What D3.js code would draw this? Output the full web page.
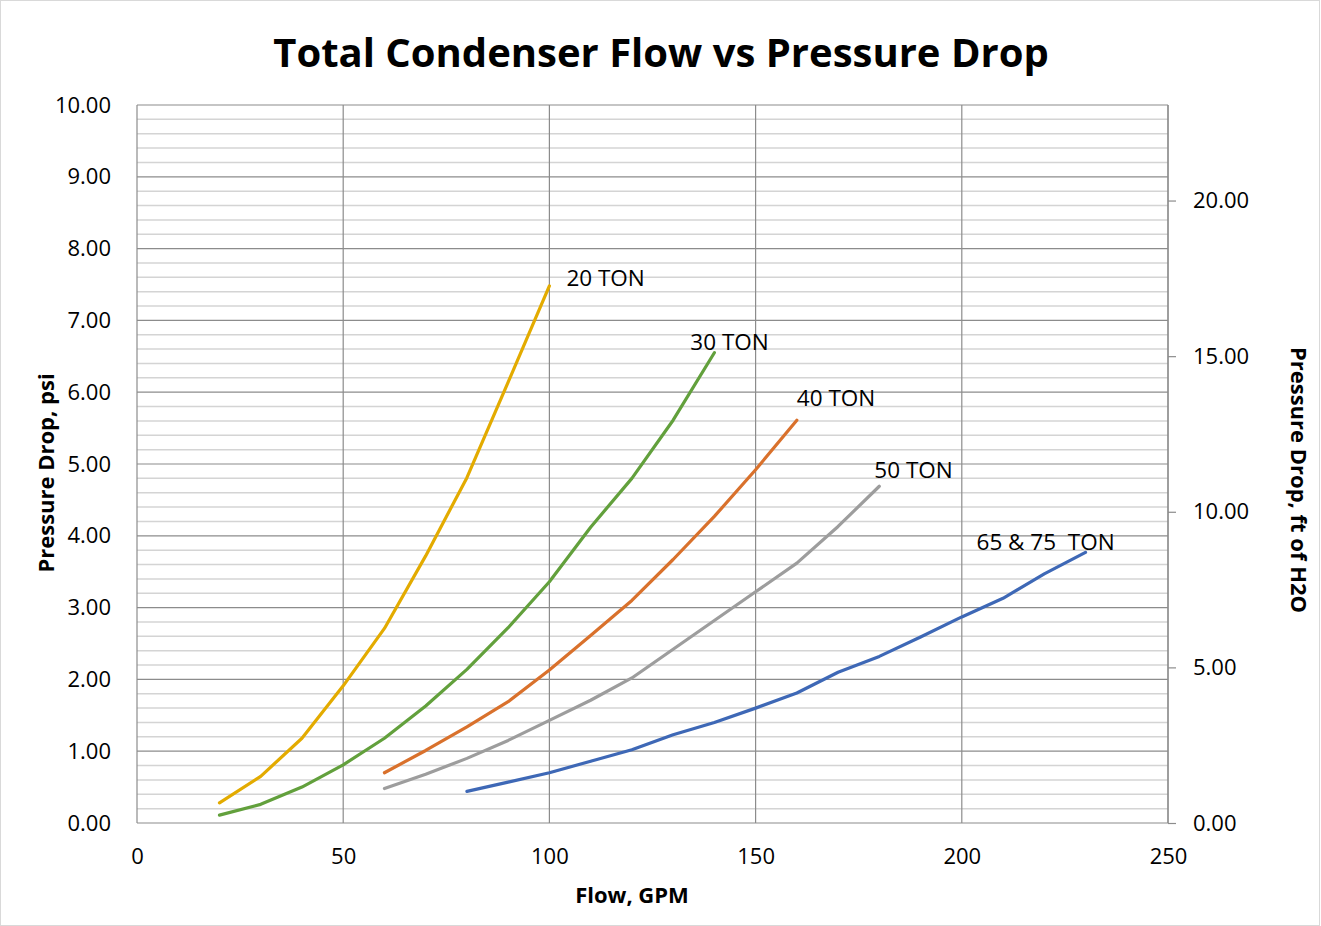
<!DOCTYPE html>
<html><head><meta charset="utf-8">
<script src="https://cdn.jsdelivr.net/npm/d3@7"></script>
<style>
html,body{margin:0;padding:0;background:#fff;}
svg{display:block;font-family:"Open Sans",sans-serif;}
</style></head>
<body>
<svg id="chart" width="1321" height="926"></svg>
<script>
const title = "Total Condenser Flow vs Pressure Drop";
const xTicks = [0, 50, 100, 150, 200, 250];
const yTicks = [0, 1, 2, 3, 4, 5, 6, 7, 8, 9, 10];
const y2Ticks = [0, 5, 10, 15, 20];
const PSI_TO_FT = 2.307;

const flow20 = [20, 30, 40, 50, 60, 70, 80, 90, 100];
const psi20  = [0.28, 0.65, 1.18, 1.91, 2.71, 3.72, 4.81, 6.14, 7.48];
const flow30 = [20, 30, 40, 50, 60, 70, 80, 90, 100, 110, 120, 130, 140];
const psi30  = [0.11, 0.26, 0.50, 0.81, 1.18, 1.63, 2.14, 2.72, 3.36, 4.12, 4.80, 5.61, 6.55];
const flow40 = [60, 70, 80, 90, 100, 110, 120, 130, 140, 150, 160];
const psi40  = [0.70, 1.01, 1.34, 1.69, 2.13, 2.61, 3.10, 3.67, 4.27, 4.92, 5.61];
const flow50 = [60, 70, 80, 90, 100, 110, 120, 130, 140, 150, 160, 170, 180];
const psi50  = [0.48, 0.68, 0.90, 1.15, 1.43, 1.71, 2.02, 2.42, 2.82, 3.22, 3.62, 4.13, 4.69];
const flow65 = [80, 90, 100, 110, 120, 130, 140, 150, 160, 170, 180, 190, 200, 210, 220, 230];
const psi65  = [0.44, 0.57, 0.70, 0.86, 1.02, 1.23, 1.40, 1.60, 1.81, 2.10, 2.32, 2.59, 2.87, 3.13, 3.47, 3.77];

const seriesNames  = ["20 TON", "30 TON", "40 TON", "50 TON", "65 & 75  TON"];
const seriesColors = ["#E3AB00", "#62A03C", "#D9712C", "#9D9D9D", "#3E68B6"];
const seriesFlows  = [flow20, flow30, flow40, flow50, flow65];
const seriesPsi    = [psi20, psi30, psi40, psi50, psi65];

const svg = d3.select("#chart");
const L = 137, R = 1168, T = 105, B = 823;
const x = d3.scaleLinear().domain([0, 250]).range([L, R]);
const y = d3.scaleLinear().domain([0, 10]).range([B, T]);
const y2 = d3.scaleLinear().domain([0, 10 * PSI_TO_FT]).range([B, T]);

// outer border
svg.append("rect").attr("x", 0.5).attr("y", 0.5).attr("width", 1319).attr("height", 925)
  .attr("fill", "#fff").attr("stroke", "#d9d9d9");

// minor gridlines
const minor = d3.range(0, 50).map(i => i * 0.2).filter(v => Math.abs(v - Math.round(v)) > 1e-6);
svg.append("g").selectAll("line").data(minor).join("line")
  .attr("x1", L).attr("x2", R).attr("y1", d => y(d)).attr("y2", d => y(d))
  .attr("stroke", "#d4d4d4").attr("stroke-width", 1.5);
// major horizontal
svg.append("g").selectAll("line").data(yTicks).join("line")
  .attr("x1", L).attr("x2", R).attr("y1", d => y(d)).attr("y2", d => y(d))
  .attr("stroke", "#8c8c8c").attr("stroke-width", 1.2);
// vertical
svg.append("g").selectAll("line").data(xTicks).join("line")
  .attr("x1", d => x(d)).attr("x2", d => x(d)).attr("y1", T).attr("y2", B)
  .attr("stroke", "#8c8c8c").attr("stroke-width", 1.2);

const tickFont = 22;
// right axis
const gR = svg.append("g").attr("transform", `translate(${R},0)`)
  .call(d3.axisRight(y2).tickValues(y2Ticks).tickFormat(d3.format(".2f")).tickSize(8).tickPadding(17));
gR.select(".domain").attr("stroke", "#8c8c8c").attr("stroke-width", 1.2).attr("d", `M0,${T}V${B}`);
gR.selectAll(".tick line").attr("stroke", "#8c8c8c").attr("stroke-width", 1.2);
gR.selectAll("text").attr("font-size", tickFont).attr("fill", "#000").attr("font-family", "'Open Sans',sans-serif");

// left axis
const gL = svg.append("g").attr("transform", `translate(${L},0)`)
  .call(d3.axisLeft(y).tickValues(yTicks).tickFormat(d3.format(".2f")).tickSize(0).tickPadding(26));
gL.select(".domain").remove();
gL.selectAll("text").attr("font-size", tickFont).attr("fill", "#000").attr("font-family", "'Open Sans',sans-serif");

// bottom axis
const gB = svg.append("g").attr("transform", `translate(0,${B})`)
  .call(d3.axisBottom(x).tickValues(xTicks).tickSize(0).tickPadding(25));
gB.select(".domain").remove();
gB.selectAll("text").attr("font-size", tickFont).attr("fill", "#000").attr("font-family", "'Open Sans',sans-serif");

// lines
const line = d3.line().x(d => x(d[0])).y(d => y(d[1]));
seriesNames.forEach((n, i) => {
  const pts = seriesFlows[i].map((f, j) => [f, seriesPsi[i][j]]);
  svg.append("path").datum(pts).attr("d", line).attr("fill", "none")
    .attr("stroke", seriesColors[i]).attr("stroke-width", 3.2)
    .attr("stroke-linejoin", "round").attr("stroke-linecap", "round");
});

// series labels
const labelPos = [[17, 0], [-24, -3], [0, -14], [-5, -8], [-109, -2]];
seriesNames.forEach((n, i) => {
  const fl = seriesFlows[i], ps = seriesPsi[i];
  const lx = x(fl[fl.length - 1]) + labelPos[i][0];
  const ly = y(ps[ps.length - 1]) + labelPos[i][1];
  svg.append("text").attr("x", lx).attr("y", ly).attr("font-size", 22.5)
    .attr("fill", "#000").style("white-space", "pre").attr("xml:space", "preserve").text(n);
});

// title
svg.append("text").attr("x", 661).attr("y", 67).attr("text-anchor", "middle")
  .attr("font-size", 40).attr("font-weight", "bold").attr("fill", "#000").text(title);

// axis titles
svg.append("text").attr("x", 632).attr("y", 903).attr("text-anchor", "middle")
  .attr("font-size", 22).attr("font-weight", "bold").text("Flow, GPM");
svg.append("text").attr("transform", "translate(54,473) rotate(-90)").attr("text-anchor", "middle")
  .attr("font-size", 22).attr("font-weight", "bold").text("Pressure Drop, psi");
svg.append("text").attr("transform", "translate(1291,480) rotate(90)").attr("text-anchor", "middle")
  .attr("font-size", 22).attr("font-weight", "bold").text("Pressure Drop, ft of H2O");
</script>
</body></html>
